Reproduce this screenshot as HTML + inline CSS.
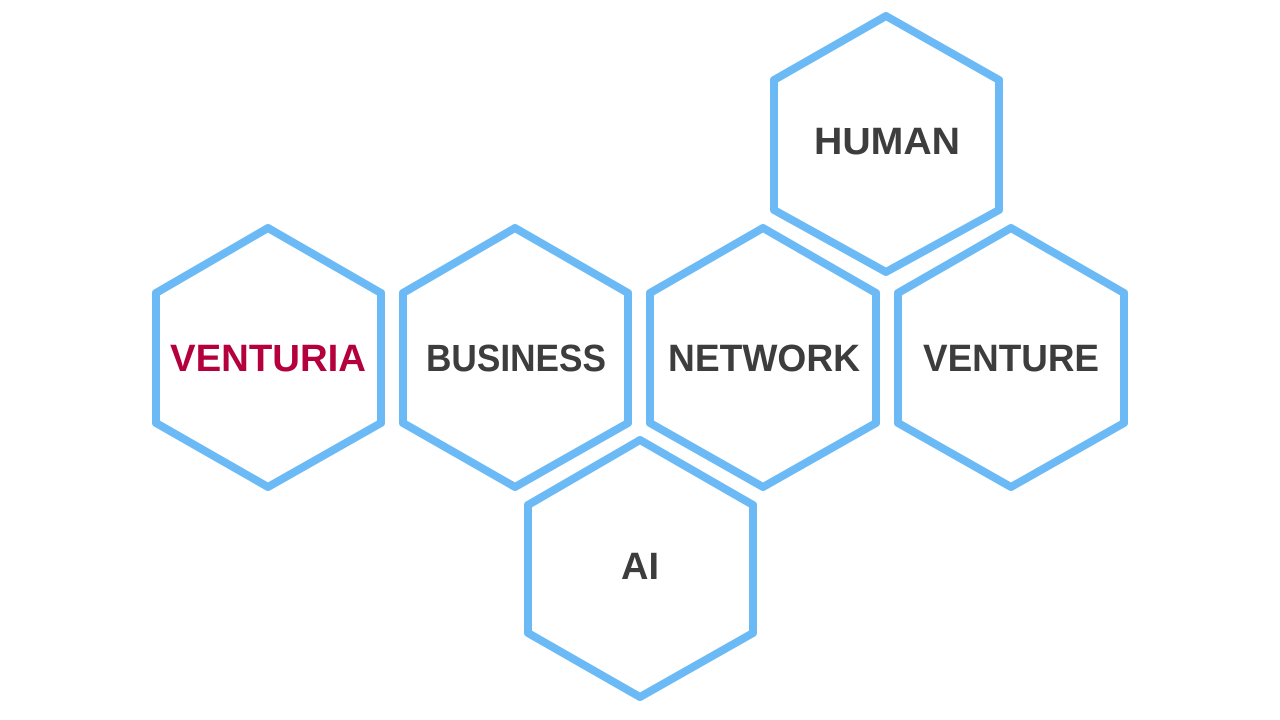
<!DOCTYPE html>
<html><head><meta charset="utf-8"><style>
html,body{margin:0;padding:0;background:#fff;width:1280px;height:720px;overflow:hidden}
svg{display:block}
text{font-family:"Liberation Sans",sans-serif;font-weight:bold;font-size:38px;fill:#3d3d3d;text-anchor:middle}
</style></head><body>
<svg width="1280" height="720" viewBox="0 0 1280 720">
<g fill="none" stroke="#6bbaf6" stroke-width="8" stroke-linejoin="round">
<polygon points="268,228 381,293 381,423 268,487 156,423 156,293"/>
<polygon points="515,228 628,293 628,423 515,487 403,423 403,293"/>
<polygon points="763,228 876,293 876,423 763,487 650,423 650,293"/>
<polygon points="1011,228 1124,293 1124,423 1011,487 898,423 898,293"/>
<polygon points="886,16 999,80 999,210 886,272 774,210 774,80"/>
<polygon points="640,440 753,505 753,633 640,697 528,633 528,505"/>
</g>
<text x="268" y="371" textLength="196" lengthAdjust="spacingAndGlyphs" style="fill:#b4003c">VENTURIA</text>
<text x="516" y="371" textLength="180" lengthAdjust="spacingAndGlyphs">BUSINESS</text>
<text x="764" y="371" textLength="192" lengthAdjust="spacingAndGlyphs">NETWORK</text>
<text x="1011" y="371" textLength="176" lengthAdjust="spacingAndGlyphs">VENTURE</text>
<text x="887" y="154" textLength="146" lengthAdjust="spacingAndGlyphs">HUMAN</text>
<text x="640" y="579" textLength="38" lengthAdjust="spacingAndGlyphs">AI</text>
</svg>
</body></html>
